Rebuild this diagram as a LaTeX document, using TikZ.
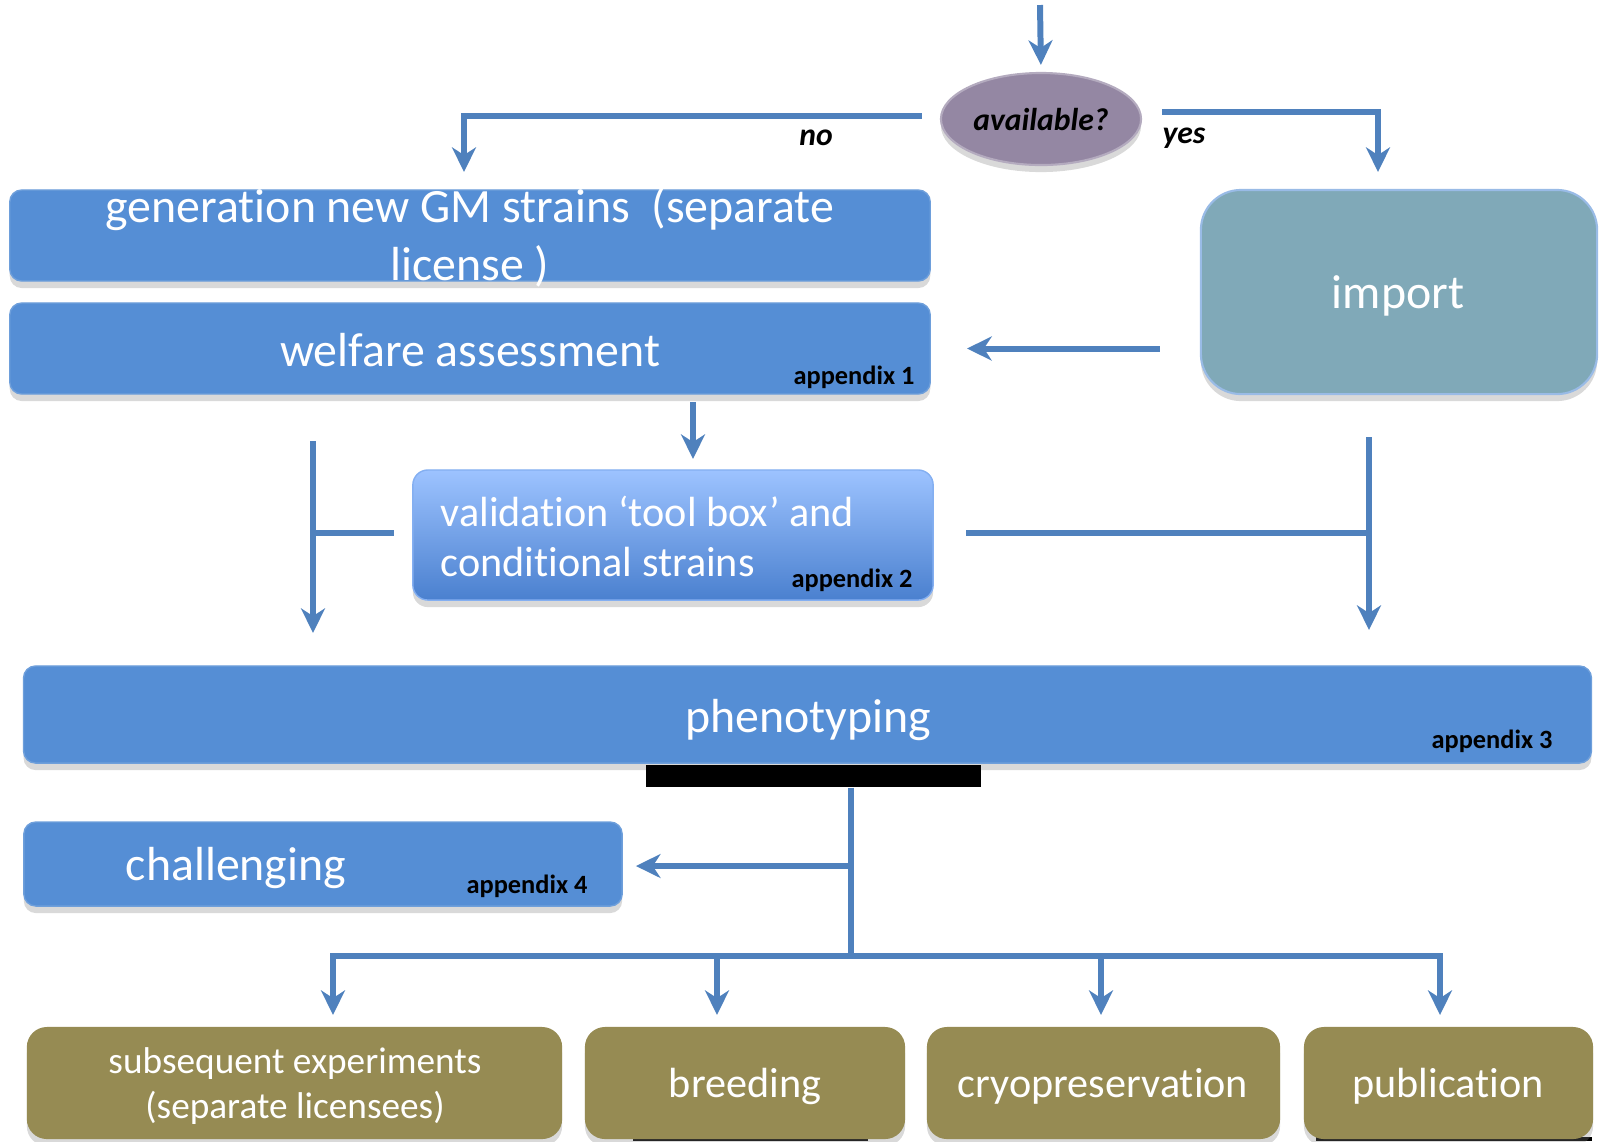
\documentclass[tikz,border=0pt]{standalone}
\usepackage{fontspec}
\setmainfont{Carlito}[Ligatures=NoCommon]
\usetikzlibrary{arrows.meta,shadows,shapes.geometric}

\definecolor{lnblue}{HTML}{4F81BD}
\definecolor{boxblue}{HTML}{558ED5}
\definecolor{impteal}{HTML}{80A9B8}
\definecolor{olivebox}{HTML}{968B53}
\definecolor{avpurple}{HTML}{9487A3}
\definecolor{valtop}{HTML}{9DC3FF}
\definecolor{valbot}{HTML}{4A80CF}

\tikzset{
  conn/.style={draw=lnblue, line width=1.7pt},
  arr/.style={conn, -{Stealth[length=7pt,width=6.8pt,inset=2.2pt]}},
  shad/.style={drop shadow={shadow xshift=0pt, shadow yshift=-2pt, opacity=0.3}},
  bluebox/.style={rectangle, rounded corners=0.12cm, fill=boxblue,
    draw=boxblue!85!white, line width=0.4pt, shad, inner sep=0pt},
  valbox/.style={rectangle, rounded corners=0.15cm, top color=valtop,
    bottom color=valbot, draw=valtop!70!valbot, line width=0.4pt, shad, inner sep=0pt},
  impbox/.style={rectangle, rounded corners=0.4cm, fill=impteal,
    draw=boxblue!60!white, line width=0.6pt, shad, inner sep=0pt},
  olbox/.style={rectangle, rounded corners=0.2cm, fill=olivebox, shad, inner sep=0pt},
  maintxt/.style={text=white, inner sep=0pt, align=center,
    font=\fontsize{13.6}{16.5}\selectfont},
  valtxt/.style={text=white, inner sep=0pt, align=left,
    font=\fontsize{12}{14.2}\selectfont},
  bottxt/.style={text=white, inner sep=0pt, align=center,
    font=\fontsize{12}{12.8}\selectfont},
  smalltxt/.style={text=white, inner sep=0pt, align=center,
    font=\fontsize{10.6}{12.8}\selectfont},
  apptxt/.style={text=black, inner sep=0pt,
    font=\fontsize{7.5}{9}\selectfont\bfseries},
  lbltxt/.style={text=black, inner sep=0pt,
    font=\fontsize{9}{11}\selectfont\bfseries\itshape},
}

\begin{document}
\begin{tikzpicture}[x=0.01cm, y=-0.01cm]
\useasboundingbox (0,0) rectangle (1600,1141);

% decision ellipse
\node[ellipse, minimum width=2cm, minimum height=0.92cm, fill=avpurple,
  draw=avpurple!70!white, line width=0.6pt, shad, inner sep=0pt, lbltxt]
  (avail) at (1041,119) {available?};

% upper boxes
\node[bluebox, minimum width=9.2cm, minimum height=0.91cm] (gen) at (470,235.5) {};
\node[maintxt] (gentxt) at (470,237) {generation new GM strains \ (separate\\license )};
\node[bluebox, minimum width=9.2cm, minimum height=0.91cm] (wel) at (470,348.5) {};
\node[maintxt] (weltxt) at (470,350) {welfare assessment};
\node[apptxt] (app1) at (854,377) {appendix 1};

\node[impbox, minimum width=3.96cm, minimum height=2.04cm] (imp) at (1399,292) {};
\node[maintxt] (imptxt) at (1398,296) {import};

% validation box
\node[valbox, minimum width=5.2cm, minimum height=1.3cm] (val) at (673,535) {};
\node[valtxt, anchor=west] (valtxtn) at (440,536) {validation ‘tool box’ and\\conditional strains};
\node[apptxt] (app2) at (852,580) {appendix 2};

% phenotyping
\node[bluebox, minimum width=15.67cm, minimum height=0.97cm] (phen) at (807.5,714.5) {};
\node[maintxt] (phentxt) at (808,720) {phenotyping};
\node[apptxt] (app3) at (1492,741) {appendix 3};
\node[fill=black, minimum width=3.35cm, minimum height=0.22cm, inner sep=0pt] (bar) at (813.5,776) {};

% challenging
\node[bluebox, minimum width=5.98cm, minimum height=0.84cm] (chal) at (323,864) {};
\node[maintxt] (chaltxt) at (236,868) {challenging};
\node[apptxt] (app4) at (527,886) {appendix 4};

% bottom strip marks
\fill[black] (633,1137) rectangle (868,1141);
\fill[black] (1316,1137) rectangle (1592,1141);

% outcome boxes
\node[olbox, minimum width=5.35cm, minimum height=1.12cm] (sub) at (294.5,1083) {};
\node[smalltxt] (subtxt) at (295,1086) {subsequent experiments\\(separate licensees)};
\node[olbox, minimum width=3.2cm, minimum height=1.12cm] (breed) at (745,1083) {};
\node[bottxt] (breedtxt) at (745,1086) {breeding};
\node[olbox, minimum width=3.53cm, minimum height=1.12cm] (cryo) at (1103.5,1083) {};
\node[bottxt] (cryotxt) at (1103,1086) {cryopreservation};
\node[olbox, minimum width=2.89cm, minimum height=1.12cm] (pub) at (1448.5,1083) {};
\node[bottxt] (pubtxt) at (1448,1086) {publication};

% branch labels
\node[lbltxt] (nolbl) at (816,138) {no};
\node[lbltxt] (yeslbl) at (1184,138) {yes};

% connector points
\coordinate (in) at (1040,5);
\coordinate (genin) at (464,172);
\coordinate (impin) at (1378,172);
\coordinate (wv1) at (693,402);
\coordinate (wv2) at (693,459);
\coordinate (l1) at (313,441);
\coordinate (l2) at (313,633);
\coordinate (l3) at (313,533);
\coordinate (l4) at (394,533);
\coordinate (r1) at (966,533);
\coordinate (r2) at (1369,533);
\coordinate (r3) at (1369,437);
\coordinate (r4) at (1369,630);
\coordinate (h1) at (851,956);
\coordinate (h2) at (851,866);
\coordinate (d2) at (717,956);
\coordinate (d3) at (1101,956);
\coordinate (e1) at (333,1015);
\coordinate (e2) at (717,1015);
\coordinate (e3) at (1101,1015);
\coordinate (e4) at (1440,1015);

% connectors
\draw[arr, shorten >=0.07cm] (in) -- (avail.north);
\draw[arr] ([xshift=-0.18cm, yshift=0.03cm]avail.west) -| (genin);
\draw[arr] ([xshift=0.2cm, yshift=0.07cm]avail.east) -| (impin);
\draw[arr, shorten <=0.4cm, shorten >=0.36cm] (wel.east -| imp.west) -- (wel.east);
\draw[arr] (wv1) -- (wv2);
\draw[arr] (l1) -- (l2);
\draw[conn] (l3) -- (l4);
\draw[conn] (r1) -- (r2);
\draw[arr] (r3) -- (r4);
\draw[conn] (bar.south -| h1) -- (h1);
\draw[arr, shorten >=0.13cm] (h2) -- (h2 -| chal.east);
\draw[arr] (h1) -| (e1);
\draw[arr] (h1) -| (e4);
\draw[arr] (d2) -- (e2);
\draw[arr] (d3) -- (e3);
\end{tikzpicture}
\end{document}
